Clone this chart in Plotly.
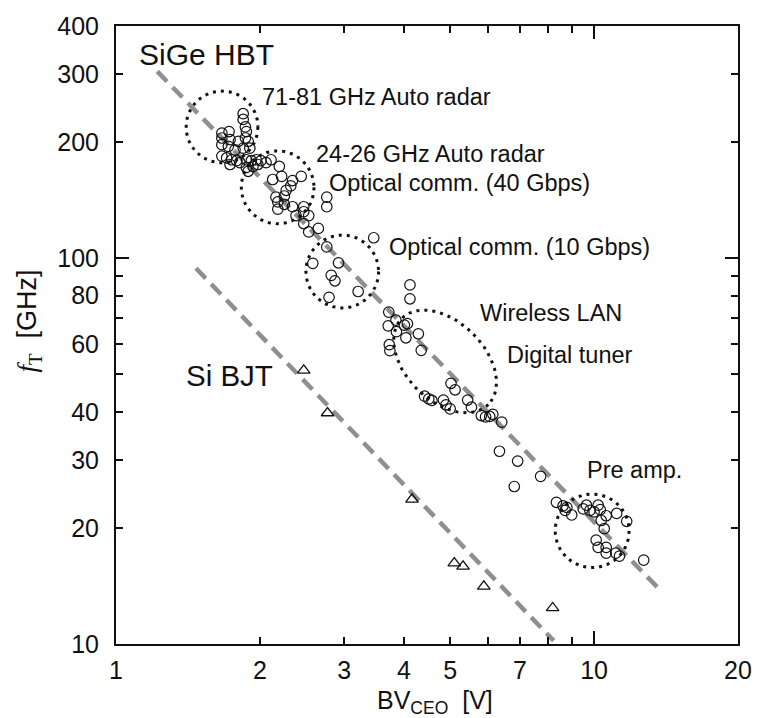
import math
import numpy as np
import plotly.graph_objects as go

# ---------------- data ----------------
sige_bv = [1.845, 1.845, 1.865, 1.874, 1.865, 1.89, 1.665, 1.724, 1.665, 1.732, 1.803, 1.665,
           1.718, 1.774, 1.845, 1.905, 1.665, 1.704, 1.746, 1.788, 1.732, 1.816, 1.874, 1.919,
           1.965, 2.01, 2.06, 2.11, 1.874, 1.89, 1.934, 1.98,
           2.196, 2.127, 2.22, 2.34, 2.44, 2.32, 2.27, 2.16, 2.25, 2.18, 2.18, 2.25, 2.34,
           2.47, 2.38, 2.47, 2.53, 2.47, 2.53, 2.65, 2.76, 2.76, 2.76,
           2.58, 2.92, 2.82, 2.87, 2.79, 3.21, 3.46, 4.12, 4.12,
           3.72, 3.85, 3.71, 4.01, 3.86, 4.04, 4.29, 3.73, 3.74, 4.35, 4.07,
           5.02, 5.12, 4.42, 4.51, 4.58, 4.84, 4.90, 5.00, 5.44, 5.54, 5.81, 5.93, 6.05,
           6.14, 6.41, 6.34, 6.92, 6.81, 7.73,
           8.34, 8.61, 8.70, 8.98, 9.49, 9.64, 9.80, 10.2, 10.3, 10.0, 10.6, 10.35, 10.5,
           11.15, 11.7, 10.1, 10.2, 10.6, 10.6, 11.1, 11.3, 12.7, 8.77]
sige_ft = [237, 229, 219, 213, 205, 201, 211, 213, 205, 203, 201, 197,
           195, 191, 193, 193, 184, 182, 180, 179, 175, 177, 180, 179,
           180, 179, 177, 180, 172, 168, 173, 175,
           173, 160, 163, 159, 163, 154, 150, 144, 145, 140, 134, 138, 136,
           136, 129, 132, 129, 123, 117, 119.5, 107, 144, 136,
           97, 97.3, 90.3, 87.4, 79.2, 82, 113, 85.3, 78.5,
           72.5, 69.1, 66.8, 67.1, 64.5, 62.2, 63.7, 59.7, 57.6, 57.7, 67.7,
           47.4, 45.6, 43.9, 43.2, 42.8, 42.9, 41.7, 40.7, 42.9, 41.1, 39.1, 38.8, 38.9,
           39.4, 37.6, 31.6, 29.8, 25.6, 27.2,
           23.3, 22.8, 22.2, 21.6, 22.4, 22.9, 22.2, 22.9, 22.3, 22.0, 21.5, 20.9, 19.9,
           21.8, 20.8, 18.6, 17.8, 17.8, 17.2, 17.2, 16.9, 16.5, 22.6]

bjt_bv = [2.47, 2.77, 4.16, 5.10, 5.32, 5.88, 8.19]
bjt_ft = [51.2, 39.7, 23.7, 16.2, 15.9, 14.1, 12.4]

# guide (trend) lines, endpoints
sige_trend_bv = [1.22, 13.9]
sige_trend_ft = [305, 13.6]
bjt_trend_bv = [1.47, 8.23]
bjt_trend_ft = [94.2, 10.2]

x_tick_vals = [1, 2, 3, 4, 5, 7, 10, 20]
x_tick_text = ["1", "2", "3", "4", "5", "7", "10", "20"]
x_minor_vals = [6, 8, 9]
y_tick_vals = [10, 20, 30, 40, 60, 80, 100, 200, 300, 400]
y_tick_text = ["10", "20", "30", "40", "60", "80", "100", "200", "300", "400"]
y_minor_vals = [50, 70, 90]

# application regions (centre in data units)
region_cx = [1.666, 2.178, 2.973, 4.88, 9.91]
region_cy = [219, 152.7, 92.4, 54.0, 19.65]

# ---------------- layout geometry ----------------
W, H = 764, 718
ML, MR, MT, MB = 116, 17, 16, 74
PW, PH = W - ML - MR, H - MT - MB
XR = [0, math.log10(20)]
YR = [1, math.log10(400)]
PPD_X = PW / (XR[1] - XR[0])
PPD_Y = PH / (YR[1] - YR[0])

region_shape = [(36.5, 36.5, 0), (37, 37, 0), (37, 37, 0), (62, 40, 45), (37.5, 37.5, 0)]

FONT = "Liberation Sans, Arial, sans-serif"
INK = "#111111"

fig = go.Figure()

# trend lines
for tx, ty in [(sige_trend_bv, sige_trend_ft), (bjt_trend_bv, bjt_trend_ft)]:
    fig.add_trace(go.Scatter(x=tx, y=ty, mode="lines",
                             line=dict(color="#8f8f8f", width=4.5, dash="14px,8px"),
                             hoverinfo="skip", showlegend=False))

# dotted region outlines
t = np.linspace(0, 2 * np.pi, 240)
for cx, cy, (a, b, ang) in zip(region_cx, region_cy, region_shape):
    th = math.radians(ang)
    dx = a * np.cos(t) * math.cos(th) - b * np.sin(t) * math.sin(th)
    dy = a * np.cos(t) * math.sin(th) + b * np.sin(t) * math.cos(th)
    ex = 10 ** (math.log10(cx) + dx / PPD_X)
    ey = 10 ** (math.log10(cy) - dy / PPD_Y)
    fig.add_trace(go.Scatter(x=ex, y=ey, mode="lines",
                             line=dict(color=INK, width=3, dash="3px,5px"),
                             hoverinfo="skip", showlegend=False))

fig.add_trace(go.Scatter(x=sige_bv, y=sige_ft, mode="markers", name="SiGe HBT",
                         marker=dict(symbol="circle-open", size=10.5, color=INK,
                                     line=dict(width=1.2, color=INK)),
                         showlegend=False))
fig.add_trace(go.Scatter(x=bjt_bv, y=bjt_ft, mode="markers", name="Si BJT",
                         marker=dict(symbol="triangle-up-open", size=11, color=INK,
                                     line=dict(width=1.3, color=INK)),
                         showlegend=False))

def px2paper(px, py):
    return (px - ML) / PW, (MT + PH - py) / PH

labels = [
    ("SiGe HBT", 137, 45, 30),
    ("71-81 GHz Auto radar", 262, 88, 23.5),
    ("24-26 GHz Auto radar", 317, 146, 23.5),
    ("Optical comm. (40 Gbps)", 330, 176, 23.5),
    ("Optical comm. (10 Gbps)", 391, 241, 23.5),
    ("Wireless LAN", 483, 308, 23.5),
    ("Digital tuner", 511, 350, 23.5),
    ("Pre amp.", 592, 467, 23.5),
    ("Si BJT", 185, 371, 29.5),
]
for txt, px, py, fs in labels:
    xp, yp = px2paper(px, py)
    fig.add_annotation(x=xp, y=yp, xref="paper", yref="paper", text=txt,
                       showarrow=False, xanchor="left", yanchor="middle",
                       font=dict(family=FONT, size=fs, color=INK))

# axis titles
xp, yp = px2paper(440, 703)
fig.add_annotation(x=xp, y=yp, xref="paper", yref="paper",
                   text="BV<sub>CEO</sub>  [V]", showarrow=False,
                   xanchor="center", yanchor="middle",
                   font=dict(family=FONT, size=25, color=INK))
xp, yp = px2paper(28, 316)
fig.add_annotation(x=xp, y=yp, xref="paper", yref="paper", textangle=-90,
                   text="<span style='font-family:Liberation Serif'><i>f</i><sub>T</sub></span>  [GHz]",
                   showarrow=False, xanchor="center", yanchor="middle",
                   font=dict(family=FONT, size=27, color=INK))

axis_common = dict(showgrid=False, zeroline=False, showline=True, linecolor=INK,
                   linewidth=2, mirror="ticks", ticks="inside", ticklen=7,
                   tickwidth=1.5, tickcolor=INK,
                   tickfont=dict(family=FONT, size=25, color=INK))
minor_common = dict(ticks="inside", ticklen=7, tickwidth=1.5, tickcolor=INK,
                    showgrid=False, tickmode="array")

fig.update_layout(
    width=W, height=H, margin=dict(l=ML, r=MR, t=MT, b=MB),
    paper_bgcolor="white", plot_bgcolor="white", showlegend=False,
    xaxis=dict(type="log", range=XR, tickmode="array", tickvals=x_tick_vals,
               ticktext=x_tick_text, ticklabelstandoff=3,
               minor=dict(tickvals=x_minor_vals, **minor_common), **axis_common),
    yaxis=dict(type="log", range=YR, tickmode="array", tickvals=y_tick_vals,
               ticktext=y_tick_text, ticklabelstandoff=10,
               minor=dict(tickvals=y_minor_vals, **minor_common), **axis_common),
    xaxis2=dict(type="log", range=XR, overlaying="x", side="bottom", tickmode="array",
                tickvals=[10], ticks="inside", ticklen=13, tickwidth=1.5, tickcolor=INK,
                showticklabels=False, showgrid=False, zeroline=False, showline=False,
                mirror="ticks"),
    yaxis2=dict(type="log", range=YR, overlaying="y", side="left", tickmode="array",
                tickvals=[100], ticks="inside", ticklen=13, tickwidth=1.5, tickcolor=INK,
                showticklabels=False, showgrid=False, zeroline=False, showline=False,
                mirror="ticks"),
)
# invisible trace to activate the overlay axes
fig.add_trace(go.Scatter(x=[1], y=[10], xaxis="x2", yaxis="y2", mode="markers",
                         marker=dict(opacity=0), hoverinfo="skip", showlegend=False))

fig.write_html("out.html")
